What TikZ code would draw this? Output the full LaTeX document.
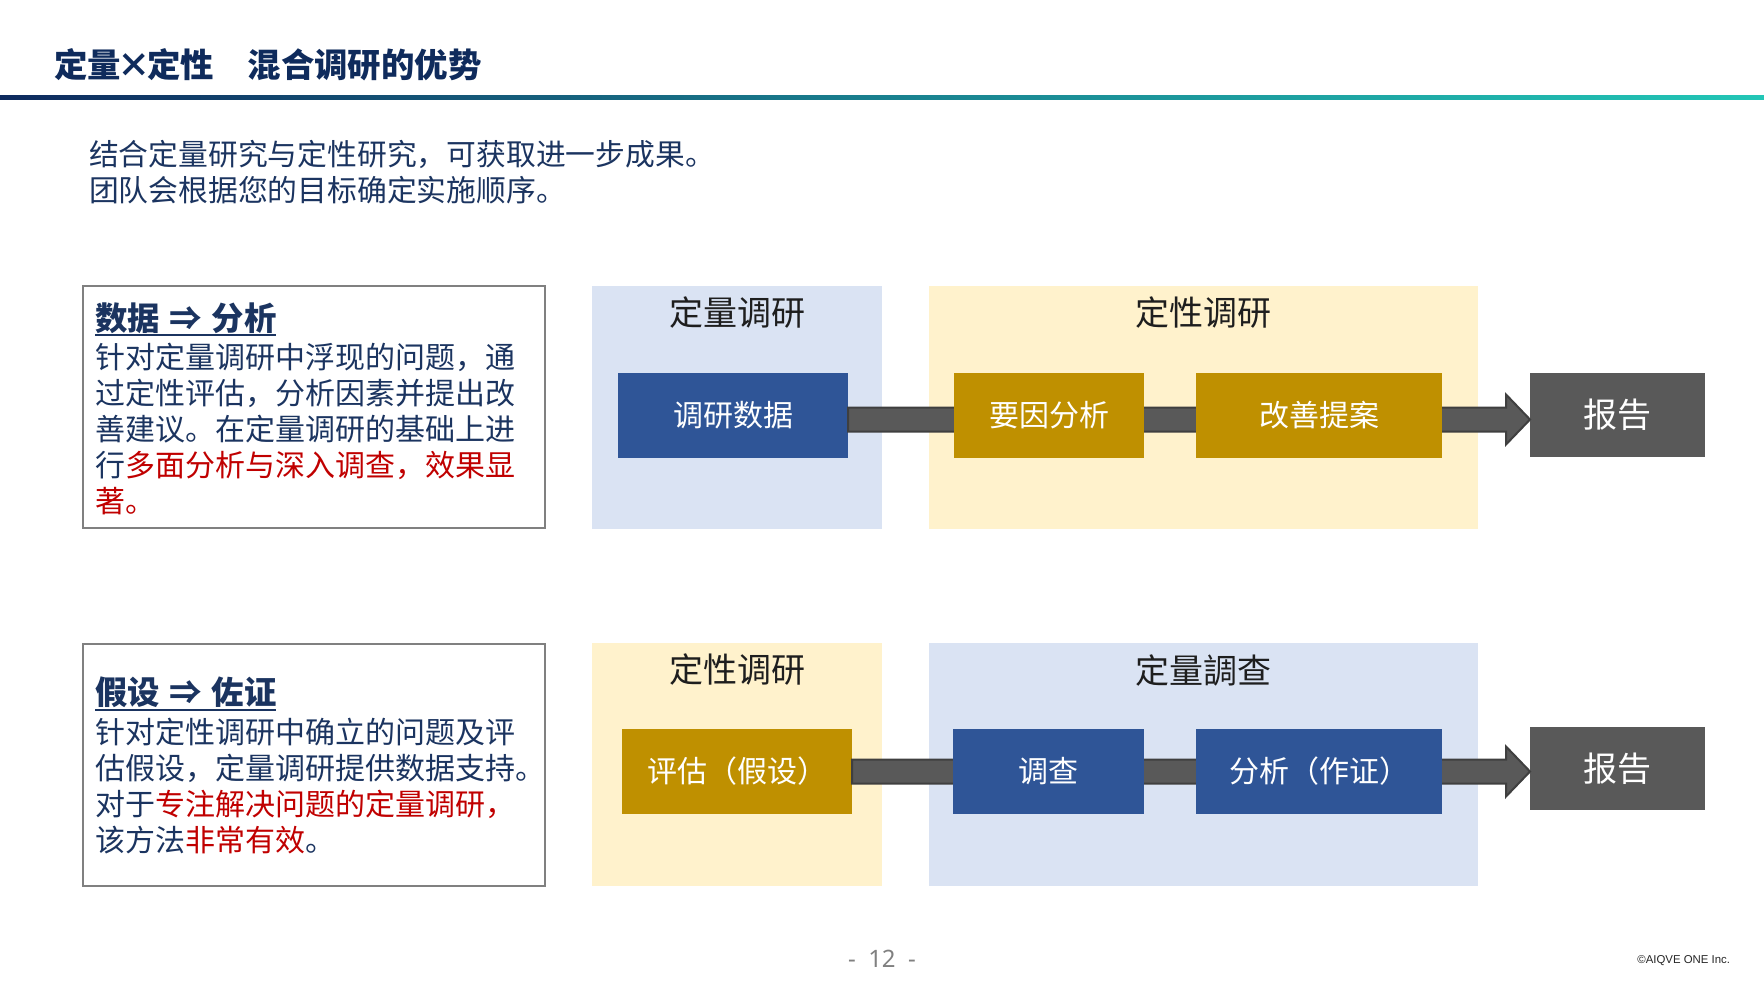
\documentclass[tikz,border=0pt]{standalone}
\usepackage{fontspec}
\setmainfont{Noto Sans CJK SC}
\newfontfamily\numfont{Noto Sans}
\newfontfamily\arialfont{Liberation Sans}
\usetikzlibrary{calc}
\definecolor{titlenavy}{HTML}{0F2B5C}
\definecolor{txtnavy}{HTML}{1B3460}
\definecolor{hred}{HTML}{C00000}
\definecolor{boxblue}{HTML}{2F5597}
\definecolor{boxgold}{HTML}{BF9000}
\definecolor{boxgray}{HTML}{595959}
\definecolor{bgblue}{HTML}{DAE3F3}
\definecolor{bgyellow}{HTML}{FFF2CC}
\definecolor{arrowline}{HTML}{3F3F3F}
\definecolor{framegray}{HTML}{808080}
\definecolor{linestart}{HTML}{0E2A5E}
\definecolor{lineend}{HTML}{22C6B6}
\definecolor{headtxt}{HTML}{1E1E1E}
\newcommand{\hr}[1]{\textcolor{hred}{#1}}
\newcommand{\wsp}{\hspace{0.3em}}
\tikzset{
  every node/.style={inner sep=0pt, outer sep=0pt},
  region/.style={draw=none, minimum height=121.5pt},
  stepbox/.style={text=white, font=\fontsize{15}{18}\selectfont, minimum height=42.5pt},
  bluebox/.style={stepbox, fill=boxblue},
  goldbox/.style={stepbox, fill=boxgold},
  reportbox/.style={fill=boxgray, text=white, font=\fontsize{17}{20}\selectfont, minimum width=87.5pt, minimum height=42pt},
  regionhead/.style={text=headtxt, font=\fontsize{17}{20}\selectfont},
  framebox/.style={draw=framegray, line width=1pt, minimum width=231pt, minimum height=121pt},
  cardhead/.style={anchor=base west, text=txtnavy, font=\fontsize{16.2}{19}\bfseries},
  cardbody/.style={anchor=west, align=left, text=txtnavy, font=\fontsize{15}{18}\selectfont},
  fatarr/.style={fill=boxgray, draw=arrowline, line width=1pt, line join=miter}
}
\begin{document}
\begin{tikzpicture}[x=0.5pt, y=-0.5pt]
\useasboundingbox (0,0) rectangle (1764,992);

% title and header line
\node[anchor=west, text=titlenavy, font=\fontsize{16.7}{20}\bfseries] (title) at (54,65) {定量\kern-0.1em×\kern-0.1em定性　混合调研的优势};
\shade[left color=linestart, right color=lineend, middle color=linestart!45!lineend] (0,95.5) rectangle (1764,99);

% subtitle
\node[anchor=west, align=left, text=txtnavy, font=\fontsize{14.9}{18}\selectfont] (sub) at (89,172)
  {结合定量研究与定性研究，可获取进一步成果。\\团队会根据您的目标确定实施顺序。};

% ---------- row 1 ----------
\node[framebox] (lb1) at (314,407) {};
\node[cardhead] (h1) at (95,330) {数据\wsp{}⇒\wsp{}分析};
\draw[txtnavy, line width=1pt] ([yshift=-2.6pt]h1.base west) -- ([yshift=-2.6pt]h1.base east);
\node[cardbody] (b1) at (95,429) {针对定量调研中浮现的问题，通\\过定性评估，分析因素并提出改\\善建议。在定量调研的基础上进\\行\hr{多面分析与深入调查，效果显}\\\hr{著。}};

\node[region, fill=bgblue, minimum width=145pt] (bg1a) at (737,407.5) {};
\node[region, fill=bgyellow, minimum width=274.5pt] (bg1b) at (1203.5,407.5) {};
\node[regionhead] (rh1a) at (737,313) {定量调研};
\node[regionhead] (rh1b) at (1203.5,313) {定性调研};

\node[bluebox, minimum width=115pt] (d1) at (733,415.5) {调研数据};
\node[reportbox] (r1) at (1617.5,414.5) {报告};
\coordinate (s1) at ($(d1.east)+(0,4)$);
\coordinate (t1) at (r1.west |- s1);
\draw[fatarr] let \p1=(s1), \p2=(t1) in
  (\x1,\y1+6pt) -- (\x2-12pt,\y1+6pt) -- (\x2-12pt,\y1+12.5pt) -- (\x2,\y1)
  -- (\x2-12pt,\y1-12.5pt) -- (\x2-12pt,\y1-6pt) -- (\x1,\y1-6pt) -- cycle;
\node[goldbox, minimum width=95pt] (k1) at (1049,415.5) {要因分析};
\node[goldbox, minimum width=123pt] (k2) at (1319,415.5) {改善提案};

% ---------- row 2 ----------
\node[framebox] (lb2) at (314,764.5) {};
\node[cardhead] (h2) at (95,704) {假设\wsp{}⇒\wsp{}佐证};
\draw[txtnavy, line width=1pt] ([yshift=-2.8pt]h2.base west) -- ([yshift=-2.8pt]h2.base east);
\node[cardbody] (b2) at (95,786) {针对定性调研中确立的问题及评\\估假设，定量调研提供数据支持。\\对于\hr{专注解决问题的定量调研，}\\该方法\hr{非常有效}。};

\node[region, fill=bgyellow, minimum width=145pt] (bg2a) at (737,764.5) {};
\node[region, fill=bgblue, minimum width=274.5pt] (bg2b) at (1203.5,764.5) {};
\node[regionhead] (rh2a) at (737,670) {定性调研};
\node[regionhead] (rh2b) at (1203.5,670) {定量調查};

\node[goldbox, minimum width=115pt] (q1) at (737,771.5) {评估（假设）};
\node[reportbox, minimum height=41.5pt] (r2) at (1617.5,768.5) {报告};
\coordinate (s2) at (q1.east);
\coordinate (t2) at (r2.west |- s2);
\draw[fatarr] let \p1=(s2), \p2=(t2) in
  (\x1,\y1+6pt) -- (\x2-12pt,\y1+6pt) -- (\x2-12pt,\y1+12.5pt) -- (\x2,\y1)
  -- (\x2-12pt,\y1-12.5pt) -- (\x2-12pt,\y1-6pt) -- (\x1,\y1-6pt) -- cycle;
\node[bluebox, minimum width=95.5pt] (q2) at (1048.5,771.5) {调查};
\node[bluebox, minimum width=123pt] (q3) at (1319,771.5) {分析（作证）};

% footer
\node[text=framegray, font=\numfont\fontsize{12}{14}\selectfont] (page) at (882,959) {-\ \ 12\ \ -};
\node[anchor=east, text=black!85, font=\arialfont\fontsize{5.7}{7}\selectfont] (copy) at (1730,961) {©AIQVE ONE Inc.};
\end{tikzpicture}
\end{document}
